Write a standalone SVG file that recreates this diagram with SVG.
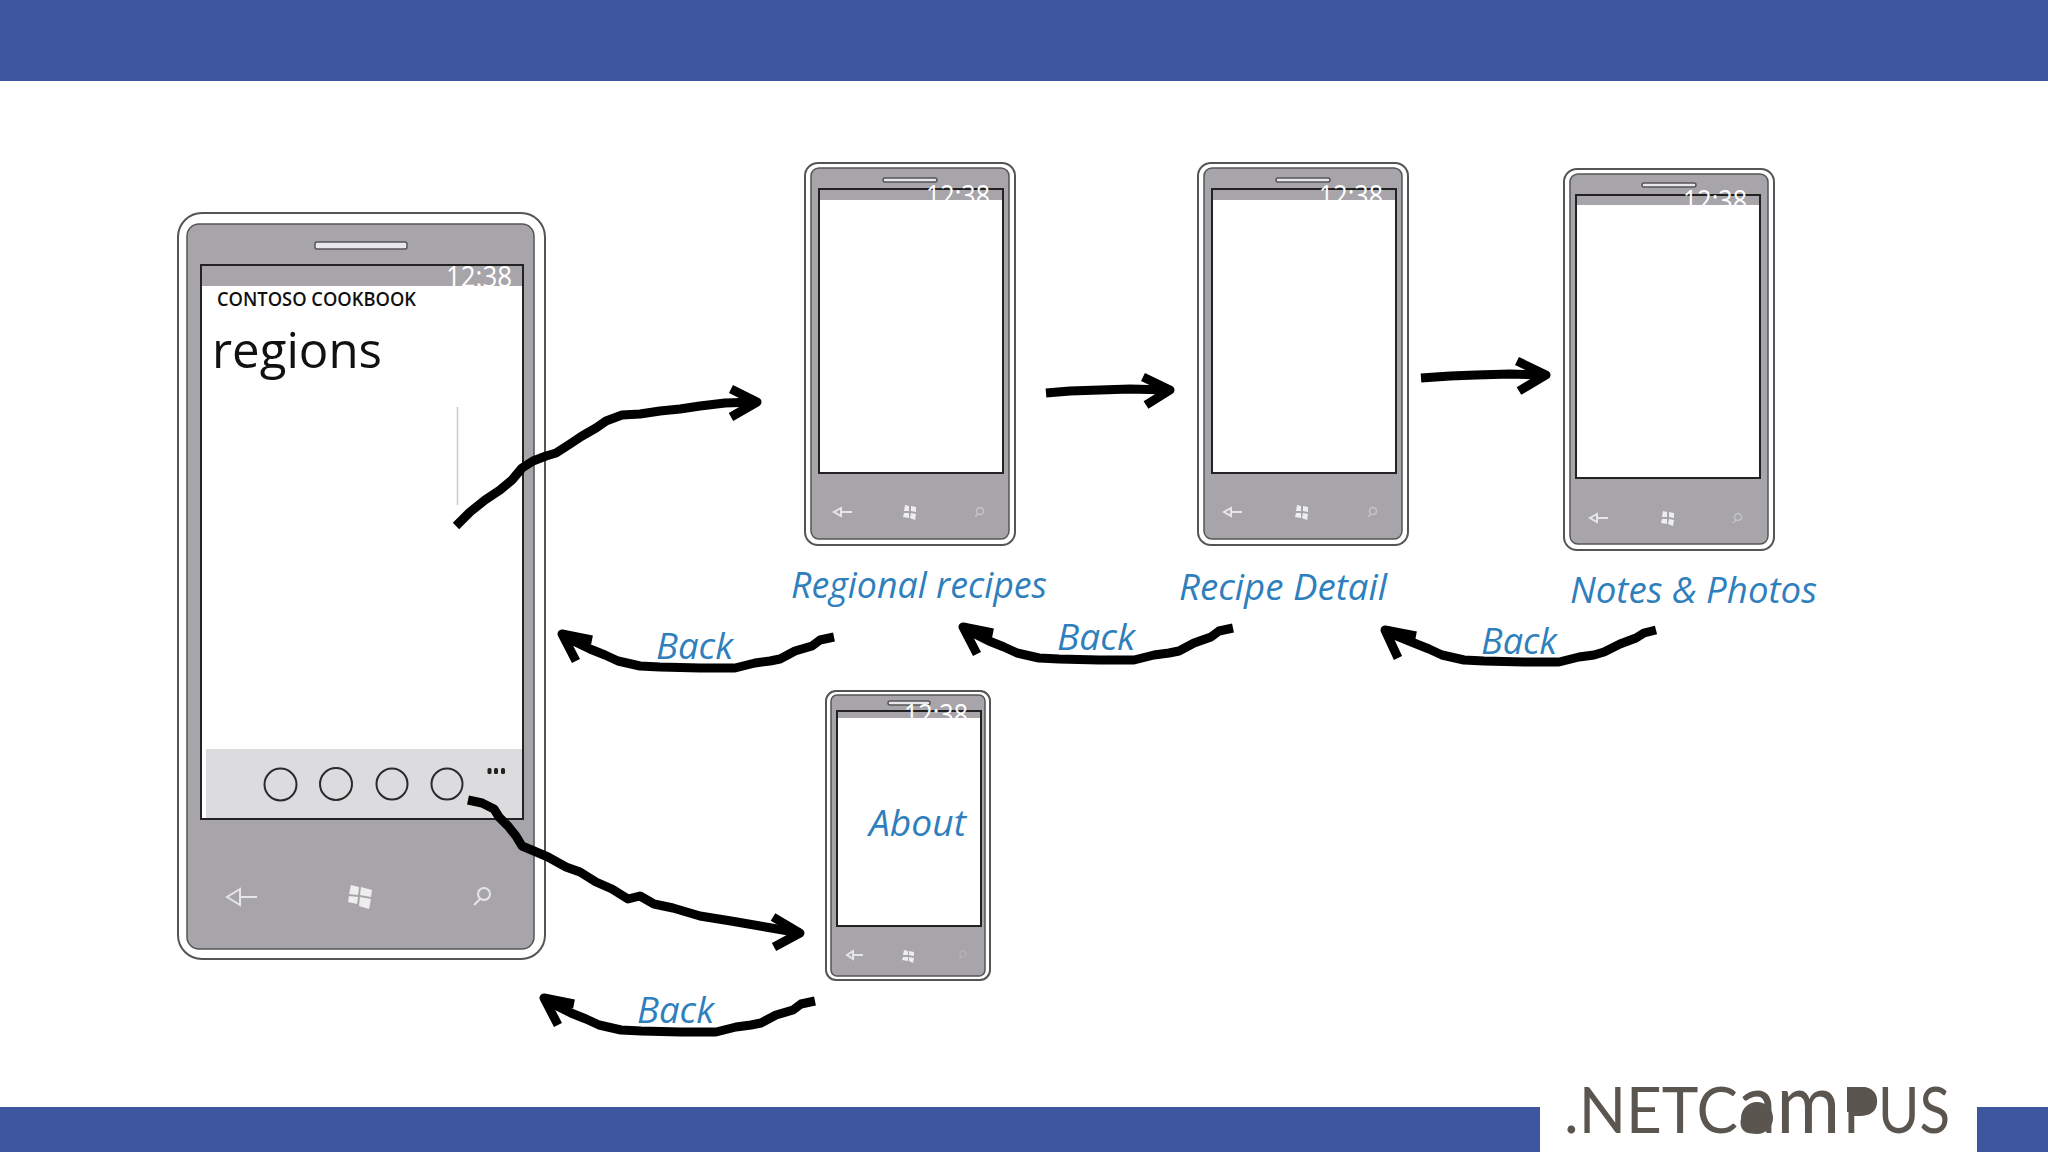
<svg xmlns="http://www.w3.org/2000/svg" width="2048" height="1152" viewBox="0 0 2048 1152">
<style>
.band{fill:#3e56a0}
.case{fill:#fff;stroke:#555;stroke-width:2}
.body{fill:#a7a5a9;stroke:#555;stroke-width:1.5}
.screen{fill:#fff;stroke:#222;stroke-width:2}
.status{fill:#a7a5a9}
.spk{fill:#e8e8ea;stroke:#555;stroke-width:1.5}
.time{font-family:"Open Sans",sans-serif;font-weight:400;fill:#fff;font-size:30px}
.ui{font-family:"Open Sans",sans-serif;fill:#111}
.nav{fill:none;stroke:#e6e6e8;stroke-width:2}
.navf{fill:#eeeeef}
.hand{font-family:"Open Sans",sans-serif;font-style:italic;fill:#2f7fbd;font-size:36px}
.ink{fill:none;stroke:#000;stroke-width:9;stroke-linecap:butt;stroke-linejoin:round}
.btn{fill:none;stroke:#2a2a2a;stroke-width:2}
.logo{font-family:"Lato",sans-serif;fill:#5a564f}
</style>
<defs>
<clipPath id="c1"><rect x="400" y="250" width="130" height="36"/></clipPath>
<clipPath id="c2"><rect x="880" y="170" width="130" height="30"/></clipPath>
<clipPath id="c3"><rect x="1273" y="170" width="130" height="30"/></clipPath>
<clipPath id="c4"><rect x="1640" y="175" width="130" height="30"/></clipPath>
<clipPath id="c5"><rect x="860" y="695" width="125" height="23"/></clipPath>
</defs>
<rect id="top-band" class="band" x="0" y="0" width="2048" height="81"/>
<rect class="band" x="0" y="1107" width="1540" height="45"/>
<rect class="band" x="1977" y="1107" width="71" height="45"/>

<g id="phone-main">
<rect class="case" x="178" y="213" width="367" height="746" rx="24"/>
<rect class="body" x="187" y="224" width="347" height="725" rx="12"/>
<rect class="spk" x="315" y="242" width="92" height="7" rx="2"/>
<rect class="screen" x="201" y="265" width="322" height="554"/>
<rect class="status" x="202" y="266" width="320" height="20"/>
<text class="time" x="446" y="287" clip-path="url(#c1)" textLength="66" lengthAdjust="spacingAndGlyphs">12:38</text>
<text class="ui" x="217" y="306" font-size="20" font-weight="600" textLength="199" lengthAdjust="spacingAndGlyphs">CONTOSO COOKBOOK</text>
<text class="ui" x="212" y="368" font-size="50" textLength="170" lengthAdjust="spacingAndGlyphs">regions</text>
<line x1="457.500" y1="407" x2="457.500" y2="505" stroke="#c8c8c8" stroke-width="1.500"/>
<rect x="206" y="749" width="316" height="69" fill="#dcdbde"/>
<circle class="btn" cx="280.500" cy="784.500" r="16"/>
<circle class="btn" cx="336" cy="784" r="16"/>
<circle class="btn" cx="392" cy="784" r="15.500"/>
<circle class="btn" cx="447" cy="784" r="15.500"/>
<g fill="#222"><rect x="487.500" y="768" width="4" height="6" rx="1.500"/><rect x="494" y="768" width="4" height="6" rx="1.500"/><rect x="501" y="768" width="4" height="6" rx="1.500"/></g>
<path class="nav" d="M257 897H240M240 889L227 897L240 905Z"/>
<g class="navf"><path d="M351 885L359 887L358 895L349 894Z"/><path d="M361 887L372 890L371 897L360 895Z"/><path d="M349 896L358 897L357 904L348 902Z"/><path d="M360 897L371 899L369 909L359 906Z"/></g>
<circle class="nav" cx="484" cy="894" r="6" stroke="#d0d0d2"/><path class="nav" d="M480 899L474 905" stroke-width="3"/>
</g>

<g id="phone-regional">
<rect class="case" x="805" y="163" width="210" height="382" rx="13"/>
<rect class="body" x="811" y="168" width="198" height="371" rx="8"/>
<rect class="spk" x="883" y="178" width="54" height="4" rx="2"/>
<rect class="screen" x="819" y="189" width="184" height="284"/>
<rect class="status" x="820" y="190" width="182" height="10"/>
<text class="time" x="926" y="206" clip-path="url(#c2)" textLength="64" lengthAdjust="spacingAndGlyphs">12:38</text>
<path class="nav" d="M852 512H841M841 508L834 512L841 516Z"/>
<g class="navf"><path d="M905 505L909 506V511L904 511Z"/><path d="M911 506L916 507V512L911 511Z"/><path d="M904 513L909 513V518L903 517Z"/><path d="M911 513L916 514L915 520L910 518Z"/></g>
<circle cx="980" cy="511" r="3.500" fill="none" stroke="#c4c4c6" stroke-width="1.500"/><path d="M978 514L975 517" stroke="#c4c4c6" stroke-width="1.500"/>
</g>

<g id="phone-detail">
<rect class="case" x="1198" y="163" width="210" height="382" rx="13"/>
<rect class="body" x="1204" y="168" width="198" height="371" rx="8"/>
<rect class="spk" x="1276" y="178" width="54" height="4" rx="2"/>
<rect class="screen" x="1212" y="189" width="184" height="284"/>
<rect class="status" x="1213" y="190" width="182" height="10"/>
<text class="time" x="1319" y="206" clip-path="url(#c3)" textLength="64" lengthAdjust="spacingAndGlyphs">12:38</text>
<path class="nav" d="M1242 512H1231M1231 508L1224 512L1231 516Z"/>
<g class="navf"><path d="M1297 505L1301 506V511L1296 511Z"/><path d="M1303 506L1308 507V512L1303 511Z"/><path d="M1296 513L1301 513V518L1295 517Z"/><path d="M1303 513L1308 514L1307 520L1302 518Z"/></g>
<circle cx="1373" cy="511" r="3.500" fill="none" stroke="#c4c4c6" stroke-width="1.500"/><path d="M1371 514L1368 517" stroke="#c4c4c6" stroke-width="1.500"/>
</g>

<g id="phone-notes">
<rect class="case" x="1564" y="169" width="210" height="381" rx="13"/>
<rect class="body" x="1570" y="174" width="198" height="370" rx="8"/>
<rect class="spk" x="1642" y="183" width="54" height="4" rx="2"/>
<rect class="screen" x="1576" y="195" width="184" height="283"/>
<rect class="status" x="1577" y="196" width="182" height="9"/>
<text class="time" x="1683" y="211" clip-path="url(#c4)" textLength="64" lengthAdjust="spacingAndGlyphs">12:38</text>
<path class="nav" d="M1608 518H1597M1597 514L1590 518L1597 522Z"/>
<g class="navf"><path d="M1663 511L1667 512V517L1662 517Z"/><path d="M1669 512L1674 513V518L1669 517Z"/><path d="M1662 519L1667 519V524L1661 523Z"/><path d="M1669 519L1674 520L1673 526L1668 524Z"/></g>
<circle cx="1738" cy="517" r="3.500" fill="none" stroke="#c4c4c6" stroke-width="1.500"/><path d="M1736 520L1733 523" stroke="#c4c4c6" stroke-width="1.500"/>
</g>

<g id="phone-about">
<rect class="case" x="826" y="691" width="164" height="289" rx="10"/>
<rect class="body" x="831" y="695" width="154" height="281" rx="6"/>
<rect class="spk" x="888" y="701" width="42" height="4" rx="2"/>
<rect class="screen" x="837" y="711" width="144" height="215"/>
<rect class="status" x="838" y="712" width="142" height="6"/>
<text class="time" x="904" y="725" clip-path="url(#c5)" textLength="64" lengthAdjust="spacingAndGlyphs">12:38</text>
<text class="hand" x="869" y="836" textLength="97" lengthAdjust="spacingAndGlyphs">About</text>
<path class="nav" d="M863 955H853M853 951L847 955L853 959Z"/>
<g class="navf"><path d="M904 950L908 951V955L903 955Z"/><path d="M909 951L914 952V956L909 955Z"/><path d="M903 957L908 957V961L902 960Z"/><path d="M909 957L914 958L913 963L909 961Z"/></g>
<circle cx="963" cy="954" r="3" fill="none" stroke="#b4b4b6" stroke-width="1.200"/><path d="M961 957L959 959" stroke="#b4b4b6" stroke-width="1.200"/>
</g>

<g id="labels">
<text class="hand" x="791" y="598" textLength="256" lengthAdjust="spacingAndGlyphs">Regional recipes</text>
<text class="hand" x="1179" y="600" textLength="208" lengthAdjust="spacingAndGlyphs">Recipe Detail</text>
<text class="hand" x="1570" y="603" textLength="247" lengthAdjust="spacingAndGlyphs">Notes &amp; Photos</text>
<text class="hand" x="656" y="659" textLength="77" lengthAdjust="spacingAndGlyphs">Back</text>
<text class="hand" x="1057" y="650" textLength="78" lengthAdjust="spacingAndGlyphs">Back</text>
<text class="hand" x="1481" y="654" textLength="76" lengthAdjust="spacingAndGlyphs">Back</text>
<text class="hand" x="637" y="1023" textLength="77" lengthAdjust="spacingAndGlyphs">Back</text>
</g>

<g id="connectors">
<path class="ink" d="M456 526L470 512L485 500L500 490L512 480L522 468L533 461L546 456L556 453L570 444L582 436L596 428L606 421L622 415L640 414L660 411L680 409L700 406L725 403L755 402"/>
<path class="ink" d="M731 389L757 402L731 417"/>
<path class="ink" d="M1046 393L1070 391L1100 390L1130 389L1168 390"/>
<path class="ink" d="M1143 377L1170 390L1146 405"/>
<path class="ink" d="M1421 378L1450 376L1476 375L1510 374L1544 375"/>
<path class="ink" d="M1517 361L1546 375L1519 391"/>
<path class="ink" d="M468 800L482 803L494 809L499 817L508 826L516 836L522 846L534 851L548 857L566 867L580 872L596 882L612 889L628 899L640 896L654 904L673 908L700 916L731 921L760 926L800 933"/>
<path class="ink" d="M773 917L800 933L774 947"/>
<path class="ink" d="M834 637L820 640L812 646L795 651L780 659L770 661L755 663L735 668L700 668L660 667L640 666L618 661L605 655L590 649L563 636"/>
<path class="ink" d="M592 640L562 634L576 661"/>
<path class="ink" d="M1233 628L1219 631L1211 637L1194 643L1179 651L1169 653L1154 655L1134 660L1099 660L1059 659L1039 658L1017 653L1004 647L989 641L965 629"/>
<path class="ink" d="M993 633L963 627L977 654"/>
<path class="ink" d="M1656 630L1644 633L1636 638L1620 644L1604 652L1594 655L1579 657L1559 662L1524 662L1484 661L1464 660L1442 655L1429 649L1414 643L1387 632"/>
<path class="ink" d="M1416 636L1385 630L1398 658"/>
<path class="ink" d="M815 1001L801 1004L793 1010L776 1015L761 1023L751 1025L736 1027L716 1032L681 1032L641 1031L621 1030L599 1025L586 1019L571 1013L545 1000"/>
<path class="ink" d="M574 1004L544 998L558 1025"/>
</g>

<g id="logo">
<text class="logo" x="1564" y="1133" font-size="64" textLength="174" lengthAdjust="spacingAndGlyphs">.NETC</text>
<text class="logo" x="1738" y="1133" font-size="84" textLength="102" lengthAdjust="spacingAndGlyphs">am</text>
<circle cx="1757" cy="1118" r="16" fill="#5a564f"/>
<text class="logo" x="1843" y="1133" font-size="64" textLength="36" lengthAdjust="spacingAndGlyphs">P</text>
<text class="logo" x="1878" y="1133" font-size="64" textLength="72" lengthAdjust="spacingAndGlyphs">US</text>
<path d="M1847 1087H1863A12.500 12.500 0 0 1 1863 1112H1847Z" fill="#5a564f"/>
</g>
</svg>
